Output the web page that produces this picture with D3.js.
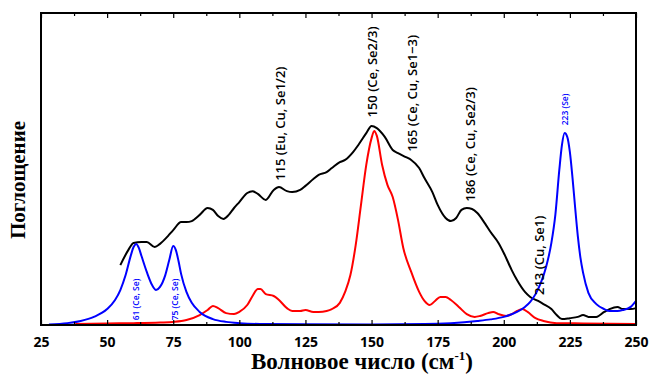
<!DOCTYPE html>
<html>
<head>
<meta charset="utf-8">
<script src="https://cdn.jsdelivr.net/npm/d3@7"></script>
<style>
  body { margin: 0; background: #fff; }
  svg { display: block; }
</style>
</head>
<body>
<svg id="chart" width="650" height="376"></svg>
<script>
// wavenumber (cm-1) / absorbance (arb. units)
const blackX = [55,58,60,63,65,68,70,73,75,78,80,82,85,88,90,92,94,96,98,100,103,105,107,110,113,115,118,120,123,125,128,130,133,135,138,140,143,145,148,150,152,155,158,160,163,165,168,170,173,175,178,180,182,184,186,188,190,193,195,198,200,203,205,208,210,213,215,218,220,222,225,228,230,232,235,238,240,243,245,248,250];
const blackY = [19.2,24.0,26.3,26.6,26.6,25.0,26.0,28.5,30.4,33.0,33.0,33.3,35.3,37.5,36.9,34.9,34.0,35.3,37.5,39.4,42.3,42.9,42.0,40.1,43.3,44.2,42.9,42.6,43.3,44.6,46.8,48.1,49.0,50.3,52.2,52.9,55.4,57.7,61.5,63.8,63.1,60.3,56.1,55.1,53.8,52.9,50.3,47.1,42.6,38.5,34.3,33.3,34.3,36.9,37.5,37.2,35.9,32.4,29.8,26.3,23.1,17.6,14.4,10.6,9.0,7.7,6.7,5.1,3.2,1.9,2.2,2.6,3.2,2.6,2.6,4.2,5.1,5.8,5.1,5.1,5.4];

const redX = [38,50,60,70,75,80,85,88,90,92,95,98,100,103,105,107,108,110,113,115,118,120,123,125,128,130,133,135,138,140,142,144,146,148,150,151,152,154,156,158,160,162,165,168,170,172,174,176,178,180,183,186,189,191,194,196,198,201,203,205,207,209,212,215,220,230,250];
const redY = [0.3,0.5,0.6,0.8,1.0,1.6,3.2,4.8,6.1,5.4,3.8,3.5,4.2,6.4,9.3,11.5,11.5,9.9,9.3,8.0,5.4,4.5,4.5,4.8,4.2,4.2,4.5,5.1,7.1,10.6,16.0,25.6,38.5,51.3,59.9,62.2,60.6,51.3,44.9,41.0,33.7,24.7,17.0,10.6,7.7,6.4,7.7,9.0,9.0,8.0,5.8,3.5,2.6,2.9,3.8,4.2,3.5,2.9,3.5,4.5,5.1,4.2,2.2,1.3,0.6,0.5,0.3];

const blueX = [28,35,40,45,50,53,55,57,59,60,61,62,63,65,67,68.5,70,72,73.5,75,76,77,78,80,82,85,90,95,100,110,150,170,180,190,195,200,205,208,210,212,214,216,218,219.5,221,222,223,224,225,226,227,228,229,230,232,235,238,240,243,245,248,250];
const blueY = [0.2,0.6,1.3,2.6,5.1,8.0,11.2,16.0,22.4,25.0,26.0,24.7,22.1,17.0,12.8,11.2,12.2,16.0,20.8,25.3,24.0,20.5,16.3,10.6,7.1,4.2,1.9,1.0,0.6,0.3,0.2,0.3,0.6,1.3,1.8,2.6,4.2,5.8,7.4,9.9,13.5,18.6,26.3,35.3,49.7,57.7,61.5,60.3,55.4,47.1,37.5,28.5,21.5,16.7,10.3,6.7,5.1,4.5,4.5,4.8,5.8,7.7];

const majorTicks = [25,50,75,100,125,150,175,200,225,250];
const minorTicks = [37.5,62.5,87.5,112.5,137.5,162.5,187.5,212.5,237.5];

// peak labels: [wavenumber, absorbance at label foot, text]
const blackLabels = [
  [115.5, 46.2, "115 (Eu, Cu, Se1/2)"],
  [150.5, 66.5, "150 (Ce, Se2/3)"],
  [165.5, 55.5, "165 (Ce, Cu, Se1\u22123)"],
  [187.5, 39.5, "186 (Ce, Cu, Se2/3)"],
  [213.5, 9.6, "213 (Cu, Se1)"]
];
const blueLabels = [
  [61, 1.5, "61 (Ce, Se)"],
  [75.5, 1.5, "75 (Ce, Se)"],
  [223, 64, "223 (Se)"]
];

const margin = {left: 41, right: 14, top: 13, bottom: 51};
const W = 650, H = 376;
const svg = d3.select("#chart");

const x = d3.scaleLinear().domain([25, 250]).range([margin.left, W - margin.right]);
const y = d3.scaleLinear().domain([0, 100]).range([H - margin.bottom, margin.top]);

const line = d3.line()
  .x(d => x(d[0]))
  .y(d => y(d[1]))
  .curve(d3.curveMonotoneX);

function drawSeries(xs, ys, color) {
  svg.append("path")
    .datum(d3.zip(xs, ys))
    .attr("fill", "none")
    .attr("stroke", color)
    .attr("stroke-width", 2)
    .attr("stroke-linejoin", "round")
    .attr("d", line);
}

drawSeries(redX, redY, "#ff0000");
drawSeries(blackX, blackY, "#000000");
drawSeries(blueX, blueY, "#0000ff");

// frame
svg.append("rect")
  .attr("x", margin.left).attr("y", margin.top)
  .attr("width", W - margin.left - margin.right)
  .attr("height", H - margin.top - margin.bottom)
  .attr("fill", "none").attr("stroke", "#000").attr("stroke-width", 2);

// bottom axis, ticks inward
const axisB = svg.append("g").attr("transform", `translate(0,${H - margin.bottom})`);
axisB.call(d3.axisBottom(x).tickValues(majorTicks).tickSize(-5).tickPadding(12).tickFormat(d3.format("d")));
axisB.append("g").call(d3.axisBottom(x).tickValues(minorTicks).tickSize(-3).tickFormat(""));
axisB.selectAll(".domain").remove();
axisB.selectAll("line").attr("stroke", "#000").attr("stroke-width", 1.2);
axisB.selectAll("text")
  .attr("font-family", "'Open Sans', sans-serif")
  .attr("font-weight", "bold")
  .attr("font-size", 14)
  .attr("fill", "#000");

const axisT = svg.append("g").attr("transform", `translate(0,${margin.top})`);
axisT.call(d3.axisTop(x).tickValues(majorTicks).tickSize(-5).tickFormat(""));
axisT.append("g").call(d3.axisTop(x).tickValues(minorTicks).tickSize(-3).tickFormat(""));
axisT.selectAll(".domain").remove();
axisT.selectAll("line").attr("stroke", "#000").attr("stroke-width", 1.2);

// axis titles
const xTitle = svg.append("text")
  .attr("x", 362).attr("y", 369)
  .attr("text-anchor", "middle")
  .attr("font-family", "'Liberation Serif', serif")
  .attr("font-weight", "bold")
  .attr("font-size", 23);
xTitle.append("tspan").text("Волновое число (см");
xTitle.append("tspan").attr("dy", -9).attr("font-size", 13).text("-1");
xTitle.append("tspan").attr("dy", 9).text(")");

svg.append("text")
  .attr("transform", "translate(25,180) rotate(-90)")
  .attr("text-anchor", "middle")
  .attr("font-family", "'Liberation Serif', serif")
  .attr("font-weight", "bold")
  .attr("font-size", 21)
  .text("Поглощение");

// peak annotations
function drawLabels(list, color, size, weight) {
  svg.selectAll(null)
    .data(list)
    .enter().append("text")
    .attr("transform", d => `translate(${x(d[0]) + size * 0.35},${y(d[1])}) rotate(-90)`)
    .attr("text-anchor", "start")
    .attr("font-family", "'Open Sans', sans-serif")
    .attr("font-weight", weight)
    .attr("font-size", size)
    .attr("fill", color)
    .text(d => d[2]);
}
drawLabels(blackLabels, "#000", 13, 600);
drawLabels(blueLabels, "#0000ff", 8.5, 600);
</script>
</body>
</html>
